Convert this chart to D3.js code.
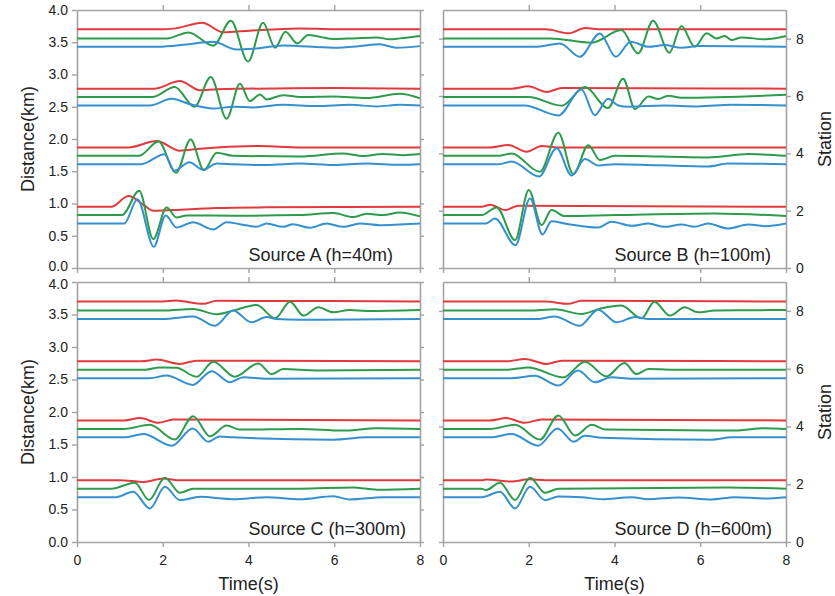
<!DOCTYPE html>
<html>
<head>
<meta charset="utf-8">
<script src="https://cdn.jsdelivr.net/npm/d3@7"></script>
<style>
  body { margin: 0; background: #fff; }
  svg text { font-family: "Liberation Sans", Arial, sans-serif; fill: #222; }
</style>
</head>
<body>
<svg id="chart" width="835" height="596"></svg>
<script>
// axis ticks and labels
const timeTicks = [0, 2, 4, 6, 8];
const distTicks = [0, 0.5, 1, 1.5, 2, 2.5, 3, 3.5, 4];
const stationTicks = [0, 2, 4, 6, 8];
const panelLabels = ["Source A (h=40m)", "Source B (h=100m)", "Source C (h=300m)", "Source D (h=600m)"];

// baseline distance (km) of each trace, stations 2, 4, 6, 8
const baseRed = [0.95, 1.87, 2.78, 3.70];
const baseGreen = [0.82, 1.74, 2.65, 3.56];
const baseBlue = [0.69, 1.61, 2.52, 3.43];

// traces: [time (s), offset from baseline (km)], one list per station
const aRed = [
  [[0,0],[0.8,0],[1.2,0.165],[1.55,0.03],[1.78,-0.062],[2.25,-0.05],[3.26,-0.02],[4.42,-0.01],[8,0]],
  [[0,0],[1.2,0],[1.86,0.098],[2.4,-0.052],[2.87,-0.02],[4.27,0.02],[5.2,0],[8,0]],
  [[0,0],[1.8,0],[2.4,0.119],[2.87,-0.026],[3.26,-0.01],[5.98,0.01],[8,0]],
  [[0,0],[2.0,0],[2.3,0.015],[2.92,0.103],[3.41,-0.046],[4.03,-0.02],[5.2,0.015],[6,0],[8,0]]
];
const aGreen = [
  [[0,0],[1.05,0],[1.45,0.377],[1.78,-0.372],[2.09,0.119],[2.32,-0.036],[2.56,-0.005],[3.64,-0.01],[5.2,0],[5.98,0.031],[6.44,-0.031],[6.75,0.02],[7.14,0],[7.53,0.041],[8,-0.02]],
  [[0,0],[1.45,0],[1.9,0.22],[2.31,-0.264],[2.65,0.253],[2.96,-0.222],[3.26,0.047],[3.64,0],[5.2,-0.01],[6.21,0.036],[6.67,-0.005],[7.14,0.026],[7.61,0.01],[8,0.026]],
  [[0,0],[1.75,0],[2.28,0.155],[2.74,-0.15],[3.12,0.31],[3.49,-0.336],[3.8,0.207],[4.03,-0.062],[4.27,0.041],[4.42,-0.036],[4.81,0.03],[5.2,0],[5.98,0.01],[6.75,-0.015],[7.53,0.05],[8,-0.02]],
  [[0,0],[2.1,0],[2.6,0.093],[3.18,-0.114],[3.59,0.274],[3.99,-0.36],[4.34,0.243],[4.62,-0.145],[4.86,0.103],[5.14,-0.078],[5.39,0.052],[5.66,0.026],[5.98,-0.01],[6.44,0],[6.99,0.015],[7.3,-0.015],[7.53,0],[8,0.036]]
];
const aBlue = [
  [[0,0],[1.1,0],[1.41,0.377],[1.79,-0.36],[2.07,0.124],[2.32,-0.062],[2.71,0.02],[3.18,-0.093],[3.49,0.02],[3.8,-0.01],[4.19,-0.052],[4.42,0],[4.81,-0.052],[5.04,-0.01],[5.43,-0.067],[5.82,0],[6.21,-0.052],[6.6,0],[7.06,-0.026],[7.53,-0.015],[8,0]],
  [[0,0],[1.5,0],[2.04,0.155],[2.27,-0.103],[2.62,0.031],[2.94,-0.088],[3.26,0.01],[3.64,0],[4.42,-0.015],[5.2,0.01],[5.98,-0.015],[6.75,0.01],[7.53,-0.01],[8,0]],
  [[0,0],[1.7,0],[2.21,0.103],[2.63,0.02],[3.18,-0.047],[3.64,-0.02],[4.11,-0.03],[4.81,0.01],[5.59,-0.01],[6.36,0.01],[6.99,-0.015],[7.53,0.01],[8,0]],
  [[0,0],[1.9,0],[2.56,0.036],[3.18,0.078],[3.72,-0.041],[4.11,-0.03],[4.81,0.02],[5.98,-0.015],[6.6,0.01],[7.06,0.04],[7.45,-0.015],[8,0.01]]
];

const bRed = [
  [[0,0],[0.9,0],[1.1,0.031],[1.45,-0.052],[1.76,0.015],[8,0]],
  [[0,0],[1.1,0],[1.52,0.036],[1.95,-0.067],[2.3,0.02],[2.69,0],[8,0]],
  [[0,0],[1.6,0],[1.99,0.036],[2.42,-0.052],[2.77,0.01],[8,0]],
  [[0,0],[2.4,0],[2.94,-0.062],[3.31,0.02],[3.7,0],[8,0]]
];
const bGreen = [
  [[0,0],[0.9,0],[1.25,0.119],[1.68,-0.388],[2.0,0.388],[2.3,-0.155],[2.53,0.078],[2.84,-0.015],[4.01,0],[6.34,0.026],[8,-0.015]],
  [[0,0],[1.3,0],[1.6,0.036],[2.26,-0.248],[2.69,0.357],[3.04,-0.284],[3.39,0.165],[3.66,-0.067],[4.01,0],[6.18,-0.026],[7.12,0.026],[8,0]],
  [[0,0],[2.0,0],[2.77,-0.134],[3.31,0.155],[3.85,-0.17],[4.2,0.284],[4.48,-0.186],[4.79,0.01],[5.02,-0.031],[5.25,0.02],[5.56,-0.01],[8,0.036]],
  [[0,0],[2.5,0],[3.47,-0.067],[4.16,0.129],[4.55,-0.233],[4.9,0.274],[5.28,-0.222],[5.56,0.191],[5.87,-0.129],[6.15,0.078],[6.38,0],[6.57,0.036],[6.73,-0.026],[6.96,0.015],[7.51,-0.015],[8,0.036]]
];
const bBlue = [
  [[0,0],[1.0,0],[1.21,0.078],[1.69,-0.336],[2.03,0.388],[2.32,-0.171],[2.53,0.036],[2.84,0],[3.62,-0.062],[3.93,0.026],[4.4,-0.036],[4.79,0],[5.17,-0.052],[5.56,-0.015],[5.87,-0.052],[6.18,0],[6.65,-0.078],[7.12,-0.015],[7.51,-0.041],[8,0]],
  [[0,0],[1.3,0],[1.6,0.041],[2.24,-0.191],[2.65,0.248],[3.0,-0.176],[3.31,0.078],[3.62,-0.02],[4.01,0],[6.18,-0.036],[6.65,0.01],[8,0]],
  [[0,0],[1.9,0],[2.69,-0.155],[3.23,0.248],[3.54,-0.15],[3.85,0.103],[4.09,0],[4.32,-0.02],[5.17,0],[5.95,-0.015],[6.73,0.01],[8,0]],
  [[0,0],[2.2,0],[2.73,0.052],[3.19,-0.155],[3.66,0.207],[4.03,-0.155],[4.38,0.078],[4.79,0],[5.17,0.026],[5.56,-0.015],[5.95,0.01],[8,0]]
];

const cRed = [
  [[0,0],[1.0,0],[1.55,-0.026],[2.01,0.026],[2.4,0],[8,0]],
  [[0,0],[1.1,0],[1.47,0.036],[1.9,-0.036],[2.25,0.015],[8,0]],
  [[0,0],[1.5,0],[1.86,0.026],[2.4,-0.041],[2.79,0.01],[8,0]],
  [[0,0],[2.0,0],[2.3,0.015],[2.94,-0.036],[3.26,0.01],[8,0]]
];
const cGreen = [
  [[0,0],[0.8,0],[1.35,0.092],[1.68,-0.174],[2.05,0.169],[2.4,-0.062],[2.71,0],[5.2,0],[6.44,0.02],[6.99,-0.015],[8,0]],
  [[0,0],[1.1,0],[1.7,0.062],[2.28,-0.164],[2.71,0.195],[3.1,-0.113],[3.49,0.051],[3.8,-0.01],[5.2,0],[6.21,-0.026],[6.99,0.01],[8,0]],
  [[0,0],[1.6,0],[1.93,0.036],[2.32,0.03],[2.79,-0.108],[3.18,0.123],[3.68,-0.108],[4.23,0.097],[4.54,-0.067],[4.81,0.01],[5.59,-0.01],[8,0]],
  [[0,0],[2.0,0],[2.71,0.026],[3.26,-0.056],[3.64,0],[4.19,0.087],[4.62,-0.118],[4.97,0.138],[5.28,-0.077],[5.63,0.051],[5.98,-0.026],[6.36,0.01],[6.75,-0.005],[8,0.01]]
];
const cBlue = [
  [[0,0],[0.9,0],[1.31,0.082],[1.7,-0.174],[2.05,0.159],[2.4,-0.046],[2.87,0.005],[3.64,-0.031],[4.42,0],[5.2,-0.031],[5.98,0.015],[6.36,-0.036],[7.14,0],[8,0]],
  [[0,0],[1.1,0],[1.55,0.051],[2.21,-0.128],[2.7,0.138],[3.06,-0.067],[3.33,0.015],[3.64,0],[5.98,-0.036],[6.75,0],[8,0]],
  [[0,0],[1.7,0],[2.09,0.041],[2.7,-0.103],[3.14,0.108],[3.57,-0.062],[3.88,0.015],[4.42,-0.01],[8,0]],
  [[0,0],[2.0,0],[2.71,0.041],[3.22,-0.103],[3.64,0.133],[4.07,-0.051],[4.42,0.031],[4.65,0],[5.2,-0.01],[8,0]]
];

const dRed = [
  [[0,0],[0.9,0],[1.0,0.01],[1.6,-0.02],[1.99,0.015],[2.4,0],[8,0]],
  [[0,0],[1.1,0],[1.48,0.036],[1.91,-0.036],[2.3,0.015],[8,0]],
  [[0,0],[1.5,0],[1.91,0.036],[2.42,-0.041],[2.77,0.01],[8,0]],
  [[0,0],[2.4,0],[2.92,-0.036],[3.23,0.01],[8,0]]
];
const dGreen = [
  [[0,0],[0.9,0],[1.0,-0.02],[1.33,0.092],[1.68,-0.174],[2.03,0.169],[2.38,-0.062],[2.69,0],[6.65,0.02],[8,0]],
  [[0,0],[1.1,0],[1.68,0.062],[2.26,-0.164],[2.69,0.205],[3.08,-0.103],[3.47,0.062],[3.78,-0.01],[6.73,-0.026],[7.51,0.01],[8,0]],
  [[0,0],[1.5,0],[1.99,0.036],[2.8,-0.118],[3.31,0.123],[3.81,-0.103],[4.23,0.103],[4.51,-0.067],[4.79,0.01],[5.56,0],[8,0]],
  [[0,0],[2.0,0],[2.61,0.02],[3.23,-0.051],[3.7,0.036],[4.16,0.077],[4.63,-0.118],[4.93,0.138],[5.29,-0.077],[5.64,0.051],[5.95,-0.026],[6.34,0],[7.12,0.005],[8,0.01]]
];
const dBlue = [
  [[0,0],[0.9,0],[1.33,0.082],[1.68,-0.174],[2.03,0.159],[2.38,-0.046],[2.69,0.01],[3.23,0],[3.7,-0.031],[4.4,0],[4.79,-0.031],[5.49,-0.005],[6.26,-0.036],[6.81,0],[7.51,-0.02],[8,0]],
  [[0,0],[1.1,0],[1.6,0.051],[2.22,-0.128],[2.67,0.138],[3.05,-0.067],[3.31,0.026],[3.7,-0.005],[6.26,-0.036],[6.73,0],[8,0]],
  [[0,0],[1.6,0],[2.14,0.036],[2.69,-0.113],[3.15,0.118],[3.54,-0.062],[3.93,0.015],[4.4,-0.01],[8,0]],
  [[0,0],[2.2,0],[2.61,0.041],[3.19,-0.103],[3.62,0.144],[4.05,-0.051],[4.48,0.031],[4.79,0],[8,0]]
];

const panelRed = [aRed, bRed, cRed, dRed];
const panelGreen = [aGreen, bGreen, cGreen, dGreen];
const panelBlue = [aBlue, bBlue, cBlue, dBlue];

const colors = { red: "#e23a3c", green: "#2e9a4b", blue: "#3590cf" };
const frameColor = "#a3a3a3";

const svg = d3.select("#chart");
const colX = [77, 443];
const panelW = 343;
const rowY = [[10, 268], [282, 542]];

function styleAxis(g) {
  g.select(".domain").attr("stroke", frameColor).attr("stroke-width", 1.6);
  g.selectAll(".tick line").attr("stroke", frameColor).attr("stroke-width", 1.4);
  g.selectAll(".tick text").attr("fill", "#222").style("font-size", "14px")
    .style("font-family", '"Liberation Sans", Arial, sans-serif');
}

panelLabels.forEach((label, i) => {
  const col = i % 2, row = Math.floor(i / 2);
  const x0 = colX[col], x1 = x0 + panelW;
  const [yTop, yBot] = rowY[row];

  const x = d3.scaleLinear().domain([0, 8]).range([x0, x1]);
  const y = d3.scaleLinear().domain([0, 4]).range([yBot, yTop]);
  const ySt = d3.scaleLinear().domain([0, 9]).range([yBot, yTop]);

  const g = svg.append("g");

  // frame and ticks
  g.append("g").attr("transform", `translate(0,${yTop})`)
    .call(d3.axisTop(x).tickValues([2, 4, 6]).tickSize(5).tickSizeOuter(0).tickFormat(""))
    .call(styleAxis);
  g.append("g").attr("transform", `translate(0,${yBot})`)
    .call(d3.axisBottom(x).tickValues(timeTicks).tickSize(5).tickSizeOuter(0)
      .tickFormat(row === 1 ? d3.format("d") : ""))
    .call(styleAxis)
    .selectAll(".tick text").attr("dy", "1.1em");

  if (col === 0) {
    g.append("g").attr("transform", `translate(${x0},0)`)
      .call(d3.axisLeft(y).tickValues(distTicks).tickSize(5).tickSizeOuter(0).tickFormat(d3.format(".1f")))
      .call(styleAxis)
      .selectAll(".tick text")
      .attr("x", -9)
      // keep the 0.0 / 4.0 labels where the two panels meet apart
      .attr("dy", d => row === 0 && d === 0 ? "0.18em" : row === 1 && d === 4 ? "0.46em" : "0.32em");
    g.append("g").attr("transform", `translate(${x1},0)`)
      .call(d3.axisRight(y).tickValues(distTicks).tickSize(4).tickSizeOuter(0).tickFormat(""))
      .call(styleAxis);
  } else {
    g.append("g").attr("transform", `translate(${x0},0)`)
      .call(d3.axisLeft(ySt).tickValues(stationTicks).tickSize(4).tickSizeOuter(0).tickFormat(""))
      .call(styleAxis);
    g.append("g").attr("transform", `translate(${x1},0)`)
      .call(d3.axisRight(ySt).tickValues(stationTicks).tickSize(5).tickSizeOuter(0).tickFormat(d3.format("d")))
      .call(styleAxis)
      .selectAll(".tick text").attr("x", 10);
  }

  // traces
  const line = d3.line().curve(d3.curveMonotoneX);
  const series = [
    [panelRed[i], baseRed, colors.red],
    [panelGreen[i], baseGreen, colors.green],
    [panelBlue[i], baseBlue, colors.blue]
  ];
  series.forEach(([traces, bases, color]) => {
    g.append("g").selectAll("path")
      .data(traces)
      .join("path")
      .attr("fill", "none")
      .attr("stroke", color)
      .attr("stroke-width", 2)
      .attr("stroke-linejoin", "round")
      .attr("d", (tr, k) => line.x(d => x(d[0])).y(d => y(bases[k] + d[1]))(tr));
  });

  g.append("text")
    .attr("x", x(4)).attr("y", yBot - 7)
    .style("font-size", "18px")
    .text(label);
});

// axis titles
[[139, 0], [412, 1]].forEach(([cy, row]) => {
  svg.append("text")
    .attr("transform", `translate(34,${cy}) rotate(-90)`)
    .attr("text-anchor", "middle")
    .style("font-size", "18px")
    .text("Distance(km)");
  svg.append("text")
    .attr("transform", `translate(831,${cy}) rotate(-90)`)
    .attr("text-anchor", "middle")
    .style("font-size", "18px")
    .text("Station");
});
[colX[0] + panelW / 2, colX[1] + panelW / 2].forEach(cx => {
  svg.append("text")
    .attr("x", cx).attr("y", 590)
    .attr("text-anchor", "middle")
    .style("font-size", "18px")
    .text("Time(s)");
});
</script>
</body>
</html>
